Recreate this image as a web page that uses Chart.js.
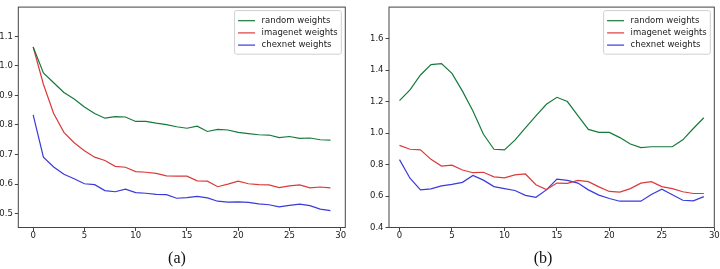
<!DOCTYPE html>
<html>
<head>
<meta charset="utf-8">
<title>Loss curves</title>
<script src="https://cdn.jsdelivr.net/npm/chart.js@4.4.0/dist/chart.umd.min.js"></script>
<style>
    body { margin: 0; width: 720px; height: 269px; background: #fff; position: relative; overflow: hidden; }
    .panel { position: absolute; top: 0; width: 360px; height: 269px; }
    .caption { position: absolute; top: 250px; width: 40px; text-align: center;
               font-family: 'Liberation Serif', serif; font-size: 16px; line-height: 16px; color: #111; }
</style>
</head>
<body>
<div class="panel" style="left:0"><canvas id="chartA" width="360" height="269"></canvas></div>
<div class="panel" style="left:360px"><canvas id="chartB" width="360" height="269"></canvas></div>
<div class="caption" style="left:157px">(a)</div>
<div class="caption" style="left:523px">(b)</div>

<script>
// Data
const epochs = [0, 1, 2, 3, 4, 5, 6, 7, 8, 9, 10, 11, 12, 13, 14, 15, 16, 17, 18, 19, 20, 21, 22, 23, 24, 25, 26, 27, 28, 29];
const seriesNames = ['random weights', 'imagenet weights', 'chexnet weights'];
const seriesColors = ['#167a3c', '#dc3a3a', '#3a3adc'];

// (a)
const randomA = [1.064, 0.976, 0.943, 0.910, 0.888, 0.861, 0.839, 0.823, 0.828, 0.827, 0.812, 0.812, 0.806, 0.801, 0.794,
                 0.789, 0.796, 0.778, 0.785, 0.783, 0.775, 0.771, 0.767, 0.766, 0.757, 0.761, 0.755, 0.756, 0.750, 0.749];
const imagenetA = [1.064, 0.938, 0.839, 0.775, 0.740, 0.713, 0.691, 0.680, 0.660, 0.657, 0.642, 0.640, 0.636, 0.628, 0.627,
                   0.627, 0.611, 0.610, 0.591, 0.600, 0.610, 0.601, 0.598, 0.597, 0.588, 0.594, 0.597, 0.587, 0.590, 0.587];
const chexnetA = [0.834, 0.691, 0.658, 0.633, 0.618, 0.601, 0.598, 0.578, 0.574, 0.583, 0.571, 0.569, 0.565, 0.564, 0.552,
                  0.554, 0.558, 0.553, 0.542, 0.539, 0.540, 0.538, 0.533, 0.530, 0.523, 0.528, 0.532, 0.527, 0.515, 0.510];

// (b)
const randomB = [1.206, 1.274, 1.369, 1.435, 1.441, 1.379, 1.266, 1.140, 0.992, 0.897, 0.893, 0.955, 1.033, 1.109, 1.183,
                 1.227, 1.200, 1.111, 1.023, 1.004, 1.004, 0.971, 0.930, 0.907, 0.913, 0.913, 0.913, 0.957, 1.029, 1.097];
const imagenetB = [0.922, 0.897, 0.893, 0.833, 0.790, 0.796, 0.765, 0.748, 0.751, 0.722, 0.715, 0.734, 0.740, 0.672, 0.641,
                   0.682, 0.680, 0.699, 0.691, 0.658, 0.629, 0.625, 0.647, 0.682, 0.691, 0.660, 0.647, 0.627, 0.616, 0.616];
const chexnetB = [0.831, 0.713, 0.639, 0.645, 0.664, 0.674, 0.687, 0.730, 0.701, 0.660, 0.647, 0.635, 0.604, 0.592, 0.639,
                  0.707, 0.699, 0.682, 0.639, 0.606, 0.584, 0.567, 0.567, 0.567, 0.610, 0.643, 0.608, 0.573, 0.569, 0.596];

// Tick labels
const xTicks = [0, 5, 10, 15, 20, 25, 30];
const yTicksA = [0.5, 0.6, 0.7, 0.8, 0.9, 1.0, 1.1];
const yTicksB = [0.4, 0.6, 0.8, 1.0, 1.2, 1.4, 1.6];

Chart.defaults.font.family = "'DejaVu Sans', sans-serif";
Chart.defaults.font.size = 8.5;
Chart.defaults.color = '#222';

const axisColor = '#444';

// frame around plot area + legend box in the upper right corner
const frameLegend = {
    id: 'frameLegend',
    afterDraw(chart) {
        const ctx = chart.ctx;
        const a = chart.chartArea;
        ctx.save();
        ctx.strokeStyle = axisColor;
        ctx.lineWidth = 1;
        ctx.strokeRect(a.left, a.top, a.right - a.left, a.bottom - a.top);

        ctx.font = "8.5px 'DejaVu Sans'";
        const items = chart.data.datasets;
        const textW = Math.max(...items.map(d => ctx.measureText(d.label).width));
        const pad = 3.5, handle = 17, gap = 6.5, row = 12.2;
        const w = pad + handle + gap + textW + pad;
        const h = pad * 2 + row * items.length;
        const x = a.right - 4 - w;
        const y = a.top + 3.5;

        ctx.beginPath();
        ctx.roundRect(x, y, w, h, 2);
        ctx.fillStyle = 'rgba(255,255,255,0.85)';
        ctx.fill();
        ctx.strokeStyle = '#d0d0d0';
        ctx.stroke();

        ctx.textBaseline = 'middle';
        ctx.fillStyle = '#222';
        items.forEach((d, i) => {
            const cy = y + pad + row * i + row / 2 + 0.5;
            ctx.beginPath();
            ctx.moveTo(x + pad, cy);
            ctx.lineTo(x + pad + handle, cy);
            ctx.strokeStyle = d.borderColor;
            ctx.lineWidth = 1.2;
            ctx.stroke();
            ctx.fillText(d.label, x + pad + handle + gap, cy);
        });
        ctx.restore();
    }
};

function makeChart(id, values, xMin, xMax, yMin, yMax, yTicks, yWidth, padRight) {
    const datasets = values.map((vals, i) => ({
        label: seriesNames[i],
        data: epochs.map((e, j) => ({ x: e, y: vals[j] })),
        borderColor: seriesColors[i],
        borderWidth: 1.2,
        pointRadius: 0,
        tension: 0,
        fill: false
    }));

    return new Chart(document.getElementById(id), {
        type: 'line',
        data: { datasets: datasets },
        options: {
            responsive: false,
            animation: false,
            devicePixelRatio: 1,
            layout: { padding: { top: 1, right: padRight, left: 0, bottom: 0 } },
            plugins: {
                legend: { display: false },
                tooltip: { enabled: false }
            },
            scales: {
                x: {
                    type: 'linear',
                    min: xMin,
                    max: xMax,
                    afterBuildTicks: s => { s.ticks = xTicks.map(v => ({ value: v })); },
                    afterFit: s => { s.height = 269 - 227.5; },
                    ticks: { padding: 0, maxRotation: 0, callback: v => String(v) },
                    grid: { drawOnChartArea: false, tickLength: 3.5, color: axisColor },
                    border: { display: false }
                },
                y: {
                    min: yMin,
                    max: yMax,
                    afterBuildTicks: s => { s.ticks = yTicks.map(v => ({ value: v })); },
                    afterFit: s => { s.width = yWidth; },
                    ticks: { padding: 2, callback: v => v.toFixed(1) },
                    grid: { drawOnChartArea: false, tickLength: 3.5, color: axisColor },
                    border: { display: false }
                }
            }
        },
        plugins: [frameLegend]
    });
}

makeChart('chartA', [randomA, imagenetA, chexnetA], -1.45, 30.45, 0.453, 1.199, yTicksA, 18.3, 14.7);
makeChart('chartB', [randomB, imagenetB, chexnetB], -1, 30, 0.4, 1.8, yTicksB, 29, 5.7);
</script>
</body>
</html>
